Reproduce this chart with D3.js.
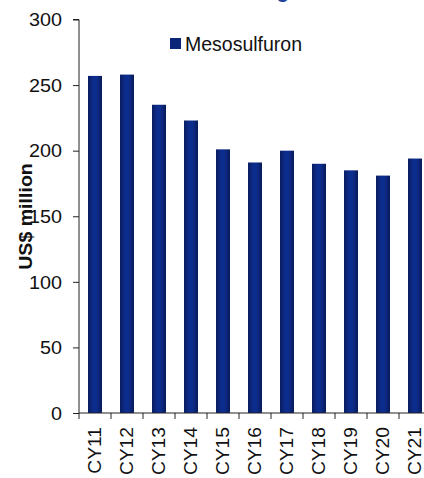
<!DOCTYPE html>
<html>
<head>
<meta charset="utf-8">
<script src="https://cdn.jsdelivr.net/npm/d3@7/dist/d3.min.js"></script>
<style>
  html, body { margin: 0; padding: 0; background: #fff; }
  svg { display: block; font-family: "Liberation Sans", Arial, sans-serif; }
</style>
</head>
<body>
<svg id="chart" width="424" height="478"></svg>
<script>
// Mesosulfuron sales by calendar year, US$ million
const categories = ["CY11", "CY12", "CY13", "CY14", "CY15", "CY16", "CY17", "CY18", "CY19", "CY20", "CY21"];
const seriesName = "Mesosulfuron";
const values = [257, 258, 235, 223, 201, 191, 200, 190, 185, 181, 194];
const yTicks = [0, 50, 100, 150, 200, 250, 300];
const yTitle = "US$ million";
const title = "Mesosulfuron sales declining";

const svg = d3.select("#chart");
const W = 424, H = 478;
const plotLeft = 79, plotTop = 19.5, plotBottom = 413;
const step = 32;
const plotRight = plotLeft + step * categories.length;

// horizontal shading on each bar: darker edges, brighter middle
const defs = svg.append("defs");
const grad = defs.append("linearGradient").attr("id", "barGrad")
  .attr("x1", "0%").attr("x2", "100%").attr("y1", "0%").attr("y2", "0%");
grad.append("stop").attr("offset", "0%").attr("stop-color", "#0a1d63");
grad.append("stop").attr("offset", "40%").attr("stop-color", "#0d2d8e");
grad.append("stop").attr("offset", "60%").attr("stop-color", "#0d2d8e");
grad.append("stop").attr("offset", "100%").attr("stop-color", "#081a58");

const x = d3.scaleBand().domain(categories).range([plotLeft, plotRight])
  .paddingInner(0.5625).paddingOuter(0.28125);
const xTickScale = d3.scaleBand().domain(categories).range([plotLeft, plotRight]).padding(0);
const y = d3.scaleLinear().domain([0, 300]).range([plotBottom, plotTop]);

// title (sits mostly above the top edge)
svg.append("text")
  .attr("x", 289).attr("y", -2)
  .attr("text-anchor", "end")
  .attr("font-weight", "bold")
  .attr("font-size", 20)
  .attr("fill", "#1c3f9c")
  .text(title);

// bars
svg.append("g").selectAll("rect")
  .data(values)
  .join("rect")
  .attr("x", (d, i) => x(categories[i]))
  .attr("width", x.bandwidth())
  .attr("y", d => y(d))
  .attr("height", d => y(0) - y(d))
  .attr("fill", "url(#barGrad)");

// y axis
const yAxis = svg.append("g").attr("transform", `translate(${plotLeft},0)`)
  .call(d3.axisLeft(y).tickValues(yTicks).tickSize(6).tickPadding(11).tickFormat(d3.format("d")));
yAxis.select(".domain").attr("stroke", "#222").attr("d", `M-6,${plotTop}H0V${plotBottom}`);
yAxis.selectAll(".tick line").attr("stroke", "#222");
yAxis.selectAll(".tick text")
  .attr("font-size", 17.5)
  .attr("fill", "#111")
  .attr("dy", "0.36em")
  .attr("transform", function () {
    // slightly wide glyphs
    const xx = +d3.select(this).attr("x");
    return `translate(${xx},0) scale(1.13,1) translate(${-xx},0)`;
  });

// x axis line and ticks at band boundaries
const xg = svg.append("g");
xg.append("line").attr("x1", plotLeft).attr("x2", W + 10).attr("y1", plotBottom).attr("y2", plotBottom)
  .attr("stroke", "#222");
xg.selectAll("line.tk")
  .data(categories)
  .join("line").attr("class", "tk")
  .attr("x1", d => xTickScale(d)).attr("x2", d => xTickScale(d))
  .attr("y1", plotBottom).attr("y2", plotBottom + 6)
  .attr("stroke", "#222");
xg.selectAll("text")
  .data(categories)
  .join("text")
  .attr("transform", d => `translate(${xTickScale(d) + xTickScale.bandwidth() / 2 + 6},${plotBottom + 14}) rotate(-90) scale(1.1,1)`)
  .attr("text-anchor", "end")
  .attr("font-size", 17.5)
  .attr("fill", "#111")
  .text(d => d);

// y axis title
svg.append("text")
  .attr("transform", `translate(32,216.5) rotate(-90) scale(1.12,1)`)
  .attr("text-anchor", "middle")
  .attr("font-weight", "bold")
  .attr("font-size", 17.5)
  .attr("fill", "#111")
  .text(yTitle);

// legend
const lg = svg.append("g").attr("transform", "translate(170,38)");
lg.append("rect").attr("width", 11).attr("height", 11).attr("fill", "#0b2678");
lg.append("text").attr("x", 15).attr("y", 12.7)
  .attr("font-size", 19.5).attr("fill", "#111")
  .text(seriesName);
</script>
</body>
</html>
